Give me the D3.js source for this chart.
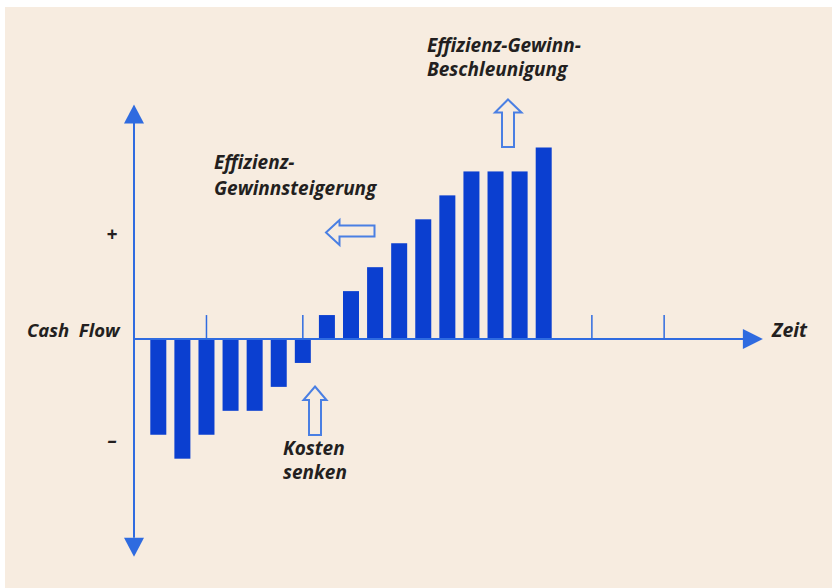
<!DOCTYPE html>
<html>
<head>
<meta charset="utf-8">
<script src="https://cdn.jsdelivr.net/npm/d3@7"></script>
<style>
  body { margin: 0; background: #fff; }
  text { font-family: "Open Sans", Roboto, sans-serif; font-style: italic; font-weight: 700; fill: #231f20; }
</style>
</head>
<body>
<svg id="chart" width="832" height="588"></svg>
<script>
// cash flow per period (units of one step)
var periods = d3.range(17);
var cashFlow = [-4, -5, -4, -3, -3, -2, -1, 1, 2, 3, 4, 5, 6, 7, 7, 7, 8];
// tick marks on the time axis (period positions)
var timeTicks = [2, 6, 18, 21];
var signLabels = [{ text: '+', v: 4.4 }, { text: '\u2013', v: -4.2 }];

var svg = d3.select('#chart');
var blue = '#0b3fd0', axisBlue = '#2f6be0', hollow = '#4a7fe3';

svg.append('rect')
    .attr('x', 5).attr('y', 7).attr('width', 827).attr('height', 581)
    .attr('fill', '#f7ece0');

var x = d3.scaleLinear().domain([0, 16]).range([158.3, 543.7]);
var y = d3.scaleLinear().domain([0, 8]).range([339, 147.5]);
var x0 = 134;
var barW = 16;

// bars
svg.selectAll('rect.bar')
    .data(periods)
    .enter().append('rect')
    .attr('class', 'bar')
    .attr('x', function(i) { return x(i) - barW / 2 })
    .attr('width', barW)
    .attr('y', function(i) { return Math.min(y(cashFlow[i]), y(0)) })
    .attr('height', function(i) { return Math.abs(y(cashFlow[i]) - y(0)) })
    .attr('fill', blue);

// axes
var ax = svg.append('g').attr('stroke', axisBlue).attr('fill', axisBlue);
ax.append('line')
    .attr('x1', x0).attr('x2', x0)
    .attr('y1', y(9.2)).attr('y2', y(-8.3))
    .attr('stroke-width', 2);
ax.append('line')
    .attr('x1', x0).attr('x2', x(24.3))
    .attr('y1', y(0)).attr('y2', y(0))
    .attr('stroke-width', 2);
// arrow heads
ax.append('path')
    .attr('stroke', 'none')
    .attr('d', 'M' + x0 + ',' + y(9.8) + 'l-10,19h20z');
ax.append('path')
    .attr('stroke', 'none')
    .attr('d', 'M' + x0 + ',' + y(-9.1) + 'l-10,-19h20z');
ax.append('path')
    .attr('stroke', 'none')
    .attr('d', 'M' + x(25.1) + ',' + y(0) + 'l-20,-10v20z');

ax.selectAll('line.tick')
    .data(timeTicks)
    .enter().append('line')
    .attr('class', 'tick')
    .attr('x1', function(d) { return x(d) }).attr('x2', function(d) { return x(d) })
    .attr('y1', y(0)).attr('y2', y(1))
    .attr('stroke-width', 1.5);

// sign labels
svg.selectAll('text.sign')
    .data(signLabels)
    .enter().append('text')
    .attr('class', 'sign')
    .attr('x', 112).attr('y', function(d) { return y(d.v) + 7 })
    .attr('text-anchor', 'middle')
    .style('font-size', '19px')
    .text(function(d) { return d.text });

svg.append('text').attr('x', 27).attr('y', 337).style('font-size', '18.5px')
    .attr('xml:space', 'preserve').text('Cash  Flow');
svg.append('text').attr('x', 772).attr('y', 337).style('font-size', '19.5px').text('Zeit');

function label(x, ys, lines) {
    var t = svg.append('text').attr('x', x).style('font-size', '19px');
    lines.forEach(function(l, k) {
        t.append('tspan').attr('x', x).attr('y', ys[k]).text(l);
    });
}
label(427, [52, 76], ['Effizienz-Gewinn-', 'Beschleunigung']);
label(214, [169, 195], ['Effizienz-', 'Gewinnsteigerung']);
label(283, [455, 479], ['Kosten', 'senken']);

// hollow arrows
var ha = svg.append('g').attr('fill', 'none').attr('stroke', hollow).attr('stroke-width', 2)
    .attr('stroke-linejoin', 'miter');
// up arrow (Beschleunigung)
ha.append('path').attr('d', 'M508,99.5L521.5,112.5H514V147H502V112.5H495Z');
// left arrow (Gewinnsteigerung)
ha.append('path').attr('d', 'M326,232.5L339.5,220V225.5H374.5V236.5H339.5V245Z');
// up arrow (Kosten senken)
ha.append('path').attr('d', 'M315,386.5L326.5,400H321V435H309V400H303.5Z');
</script>
</body>
</html>
